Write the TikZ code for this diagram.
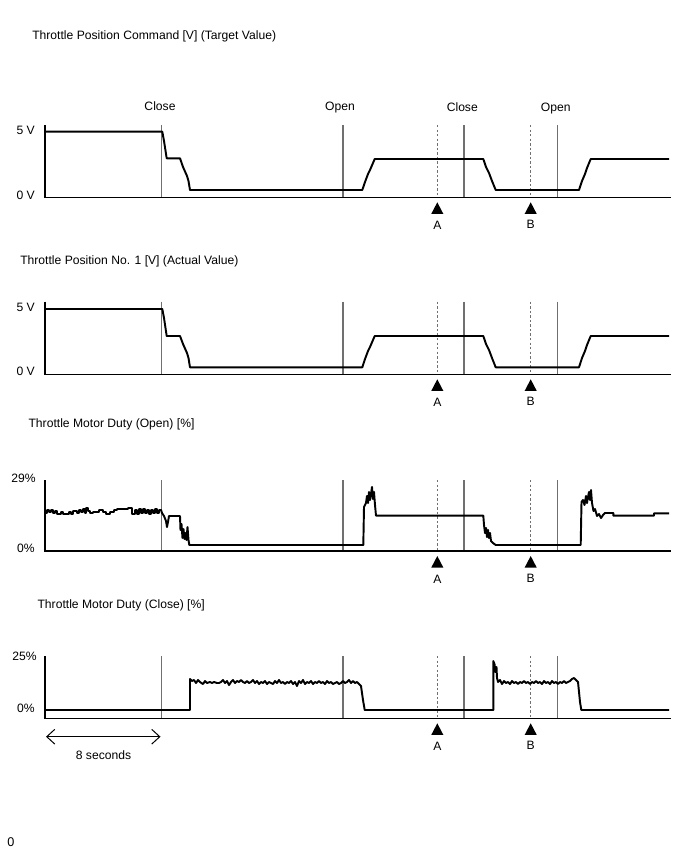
\documentclass[tikz,border=0pt]{standalone}
\usepackage{fontspec}
\setmainfont{Liberation Sans}
\usetikzlibrary{arrows.meta}
\definecolor{vgray}{RGB}{112,112,112}
\begin{document}
\begin{tikzpicture}[x=0.75pt,y=-0.75pt,
  txt/.style={inner sep=0pt,font=\fontsize{9.1}{11}\selectfont},
  curve/.style={line width=1.45pt,line join=round},
  axisline/.style={line width=1.1pt},
  vline/.style={vgray,line width=0.8pt},
  dotline/.style={vgray,line width=0.65pt,dash pattern=on 1.8pt off 1.6pt},
  tri/.style={fill=black}]
\useasboundingbox (0,0) rectangle (688,852);

% ---------- generic frames ----------
\foreach \t/\b/\n in {125/197.3/1, 301.7/374.3/2, 480/551/3, 656/718.3/4}{
  \draw[vline] (161.3,\t) -- (161.3,\b);
  \draw[vline] (343,\t) -- (343,\b);
  \draw[vline] (464,\t) -- (464,\b);
  \draw[vline] (557.3,\t) -- (557.3,\b);
  \draw[dotline] (437.3,\t) -- (437.3,\b);
  \draw[dotline] (530.7,\t) -- (530.7,\b);
  \draw[axisline] (45,\t) -- (45,\b) -- (670.7,\b);
  \fill[tri] (437.3,\b+5) -- (431.3,\b+16.5) -- (443.3,\b+16.5) -- cycle;
  \fill[tri] (530.7,\b+5) -- (524.7,\b+16.5) -- (536.7,\b+16.5) -- cycle;
  \node[txt] (A\n) at (437.3,\b+28) {A};
  \node[txt] (B\n) at (530.7,\b+27) {B};
}

% ---------- panel 1 ----------
\node[txt,anchor=west] (t1) at (32,36.7) {Throttle Position Command [V] (Target Value)};
\node[txt,anchor=base] (c1) at (160,111) {Close};
\node[txt,anchor=base] (o1) at (340,111) {Open};
\node[txt,anchor=base] (c2) at (462.3,111.5) {Close};
\node[txt,anchor=base] (o2) at (555.7,111.5) {Open};
\node[txt,anchor=east] (v51) at (35,130.7) {5 V};
\node[txt,anchor=east] (v01) at (35,195.3) {0 V};
\draw[curve] plot coordinates {(45,131.7) (162.3,131.7) (164,141) (166.7,158.3) (180,158.3) (183,167) (187,176) (188.5,181) (190,190) (362.3,190) (365,182) (368,174) (370,170) (374.7,159) (483.3,159) (486,167) (489,173) (492,181) (495.7,190) (579,190) (582,181) (585,174) (587,168) (590.7,159) (669,159)};

% ---------- panel 2 ----------
\node[txt,anchor=west] (t2) at (20,261.7) {Throttle Position No. 1 [V] (Actual Value)};
\node[txt,anchor=east] (v52) at (35,307) {5 V};
\node[txt,anchor=east] (v02) at (35,371) {0 V};
\draw[curve] plot coordinates {(45,309) (162.3,309) (164,318) (166.7,336) (180,336) (183,344) (187,353) (188.5,358) (190,367.3) (362.3,367.3) (365,359) (368,351) (370,347) (374.7,336) (483.3,336) (486,344) (489,350) (492,358) (495.7,367.3) (579,367.3) (582,358) (585,351) (587,345) (590.7,336) (669,336)};

% ---------- panel 3 ----------
\node[txt,anchor=west] (t3) at (28.3,424.3) {Throttle Motor Duty (Open) [\%]};
\node[txt,anchor=east] (p29) at (36,478) {29\%};
\node[txt,anchor=east] (p03) at (35,548) {0\%};
\draw[curve] plot coordinates {(45,513) (47,513) (47,510) (49,510) (49,512) (51,512) (51,510) (53,510) (53,513) (55,513) (55,511) (57,511) (57,514) (61,514) (61,512) (63,512) (63,514) (69,514) (69,512) (71,512) (71,514) (73,514) (73,511) (77,511) (77,513) (79,513) (79,510) (81,510) (81,512) (83,512) (83,509) (85,509) (85,513) (86,513) (86,508) (88,508) (88,511) (90,511) (90,513) (93,513) (93,512) (99,512) (99,510) (103,510) (103,512) (106,512) (106,514) (110,514) (110,512) (114,512) (114,510) (117,510) (117,509) (128,509) (128,508) (132,508) (132,514) (135,514) (135,510) (137,510) (137,514) (139,514) (139,509) (141,509) (141,513) (143,513) (143,509) (145,509) (145,513) (147,513) (147,510) (149,510) (149,514) (151,514) (151,510) (153,510) (153,513) (155,513) (155,509) (157,509) (157,513) (159,513) (159,510) (161,510) (162,513) (164,516) (166,521) (167,527) (168,522) (169,516) (180,516) (180.5,530) (181.5,524) (182.5,538) (183.5,529) (184.5,539) (185.5,533) (186.5,540) (187.5,527) (188.5,540) (189.3,545) (363.3,545) (364,507) (366,503) (367,496) (368,503) (369,492) (370,500) (371,494) (372,487) (373,499) (374,492) (375,505) (376,515.7) (483.3,515.7) (484,525) (485,533) (486,528) (487,537) (488,530) (489,538) (490,533) (491,541) (493,543) (495.7,545) (580.7,545) (581.5,502) (583,500) (584.5,505) (586,496) (587,503) (588,497) (589,492) (590,500) (591,490) (592,503) (593.5,511) (595,509) (597,516) (599,514) (601,518) (603,515) (605,513) (613.3,513) (613.3,515.7) (654,515.7) (654,513.3) (669,513.3)};

% ---------- panel 4 ----------
\node[txt,anchor=west] (t4) at (37.3,605.3) {Throttle Motor Duty (Close) [\%]};
\node[txt,anchor=east] (p25) at (37,656.7) {25\%};
\node[txt,anchor=east] (p04) at (35,708.3) {0\%};
\draw[curve] plot coordinates {(45,710) (190,710) (190,679) (192,681) (194,680) (196,683) (198,680) (200,682) (203,684) (205,681) (207,683) (210,682) (212,683) (214,682) (217,683) (219,683) (221,682) (223,680) (225,683) (227,681) (229,685) (231,682) (233,680) (235,683) (237,681) (239,682) (241,680) (243,682) (245,683) (247,681) (249,683) (251,682) (253,680) (255,683) (257,681) (259,684) (261,682) (263,683) (265,681) (267,684) (269,682) (271,683) (273,684) (275,681) (277,683) (279,680) (281,683) (283,682) (285,684) (287,682) (289,683) (291,681) (293,684) (295,682) (297,686) (299,681) (301,683) (303,680) (305,684) (307,682) (309,683) (311,681) (313,684) (315,682) (317,683) (319,681) (321,683) (323,682) (325,684) (327,681) (329,683) (331,682) (333,684) (335,683) (337,682) (339,684) (341,683) (343,681) (345,683) (347,682) (349,680) (351,683) (353,681) (355,683) (357,682) (359,684) (361,686) (363,700) (364.7,710) (493.3,710) (493.3,661) (494.5,664) (495.5,672) (496.5,667) (497,678) (498,682) (500,680) (502,684) (504,681) (506,683) (508,682) (510,684) (512,681) (514,683) (516,682) (518,684) (520,682) (522,683) (524,681) (526,683) (528,682) (530,684) (532,682) (534,683) (536,681) (538,683) (540,682) (542,684) (544,681) (546,683) (548,682) (550,684) (552,681) (554,683) (556,682) (558,684) (560,682) (562,683) (564,681) (566,683) (568,682) (570,681) (572,679) (574,678) (576,680) (578,682) (579,692) (580,702) (581.3,710) (669,710)};

% ---------- 8 seconds ----------
\coordinate (s0) at (46,736.7);
\coordinate (s1) at (160.5,736.7);
\draw[line width=0.75pt,{Straight Barb[length=6pt,width=11pt]}-{Straight Barb[length=6pt,width=11pt]}] (s0) -- (s1);
\node[txt] (sec) at (103.5,755) {8 seconds};

\node[txt,font=\fontsize{9.5}{11}\selectfont] (zero) at (11,842) {0};
\end{tikzpicture}
\end{document}
